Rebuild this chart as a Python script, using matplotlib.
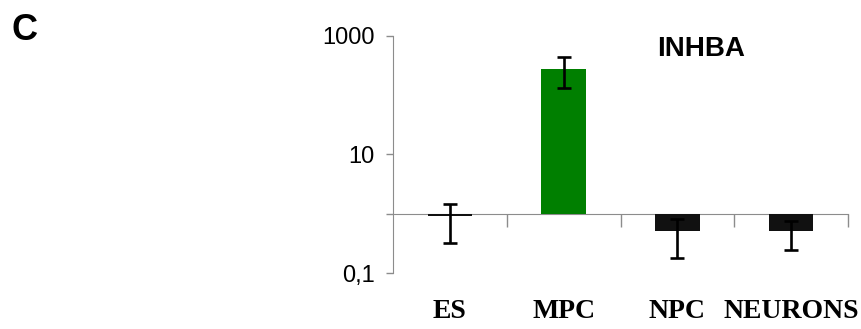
import matplotlib
matplotlib.use("Agg")
import matplotlib.pyplot as plt
import numpy as np

categories = ["ES", "MPC", "NPC", "NEURONS"]
values = [0.93, 273, 0.52, 0.52]
err_lower = [0.60, 139, 0.34, 0.27]
err_upper = [0.53, 162, 0.31, 0.25]
bar_colors = ["#111111", "#007f00", "#111111", "#111111"]
ytick_vals = [0.1, 1, 10, 1000]
ytick_labels = ["0,1", "", "10", "1000"]
title = "INHBA"
panel = "C"

fig = plt.figure(figsize=(8.62, 3.29), dpi=100)
ax = fig.add_axes([393/862, 1 - 273.3/329, (848 - 393)/862, (273.3 - 35.7)/329])

x = np.arange(len(categories))
heights = [v - 1 for v in values]
ax.bar(x, heights, bottom=1, width=0.39, color=bar_colors, zorder=2)
ax.errorbar(x, values, yerr=[err_lower, err_upper], fmt="none", ecolor="black",
            elinewidth=1.9, capsize=5, capthick=1.9, zorder=3)

ax.set_yscale("log")
ax.set_ylim(0.1, 1000)
ax.set_xlim(-0.5, len(categories) - 0.5)
ax.set_yticks(ytick_vals)
ax.set_yticklabels(ytick_labels)
ax.yaxis.set_minor_locator(matplotlib.ticker.NullLocator())
ax.tick_params(axis="y", direction="out", length=5, width=1, color="#8c8c8c",
               labelsize=17, pad=8)
for lab in ax.get_yticklabels():
    lab.set_fontfamily("Liberation Sans")

ax.set_xticks(np.arange(len(categories)) + 0.5)
ax.set_xticklabels([])
ax.tick_params(axis="x", direction="out", length=9, width=1, color="#8c8c8c")

ax.spines["top"].set_visible(False)
ax.spines["right"].set_visible(False)
ax.spines["bottom"].set_position(("data", 1))
ax.spines["bottom"].set_color("#8c8c8c")
ax.spines["left"].set_color("#8c8c8c")
ax.spines["bottom"].set_zorder(1)

for i, c in enumerate(categories):
    ax.text(i, -0.188, c, transform=ax.get_xaxis_transform(), ha="center", va="baseline",
            fontsize=20, fontweight="bold", fontfamily="Liberation Serif")

fig.text(701/862, 1 - 49/329, title, ha="center", va="center", fontsize=20,
         fontweight="bold", fontfamily="Liberation Sans")
fig.text(25/862, 1 - 30/329, panel, ha="center", va="center", fontsize=26,
         fontweight="bold", fontfamily="Liberation Sans")

fig.savefig("out.png", dpi=100)
